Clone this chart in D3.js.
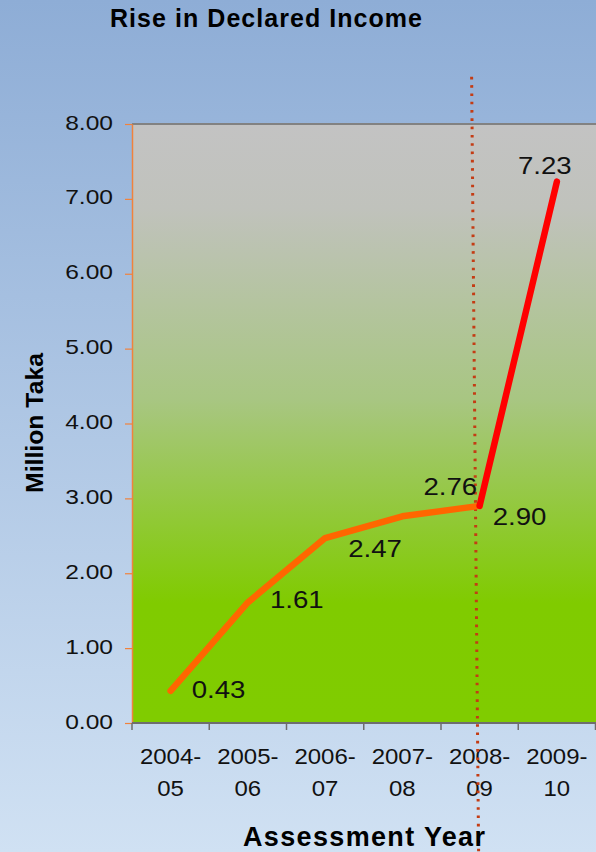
<!DOCTYPE html>
<html>
<head>
<meta charset="utf-8">
<script src="https://cdn.jsdelivr.net/npm/d3@7/dist/d3.min.js"></script>
<style>
  html, body { margin: 0; padding: 0; background: #ffffff; }
  svg { display: block; font-family: "Liberation Sans", Arial, sans-serif; }
</style>
</head>
<body>
<svg id="chart" width="596" height="852"></svg>
<script>
// Assessment years and declared income (million Taka)
const years = ["2004-05", "2005-06", "2006-07", "2007-08", "2008-09", "2009-10"];
const income = [0.43, 1.61, 2.47, 2.76, 2.90, 7.23];
const yTicks = [0, 1, 2, 3, 4, 5, 6, 7, 8];
const markerYear = "2008-09";

// Label placement around each point (start anchor, baseline)
const labelDx = [21, 22, 23, 21, 13, -39];
const labelDy = [7, 6, 19, -21, 19, -8];

const W = 596, H = 852;
const plot = { left: 132, right: 595.5, top: 124, bottom: 723 };

const svg = d3.select("#chart");
const defs = svg.append("defs");

const bgGrad = defs.append("linearGradient").attr("id", "bgGrad")
  .attr("x1", 0).attr("y1", 0).attr("x2", 0).attr("y2", 1);
bgGrad.append("stop").attr("offset", "0%").attr("stop-color", "#8eadd6");
bgGrad.append("stop").attr("offset", "100%").attr("stop-color", "#d0e1f3");

const plotGrad = defs.append("linearGradient").attr("id", "plotGrad")
  .attr("x1", 0).attr("y1", 0).attr("x2", 0).attr("y2", 1);
plotGrad.append("stop").attr("offset", "0%").attr("stop-color", "#c3c3c3");
plotGrad.append("stop").attr("offset", "14%").attr("stop-color", "#c0c2bc");
plotGrad.append("stop").attr("offset", "46%").attr("stop-color", "#a8c682");
plotGrad.append("stop").attr("offset", "80%").attr("stop-color", "#80cb00");
plotGrad.append("stop").attr("offset", "100%").attr("stop-color", "#80cc00");

svg.append("rect").attr("width", W).attr("height", H).attr("fill", "url(#bgGrad)");

const x = d3.scaleBand().domain(years).range([plot.left, plot.right]).padding(0);
const y = d3.scaleLinear().domain([0, 8]).range([plot.bottom, plot.top]);
const cx = d => x(d) + x.bandwidth() / 2;

// Plot area
svg.append("rect")
  .attr("x", plot.left).attr("y", plot.top)
  .attr("width", plot.right - plot.left + 1).attr("height", plot.bottom - plot.top)
  .attr("fill", "url(#plotGrad)");

// Top border
svg.append("line")
  .attr("x1", plot.left).attr("x2", W).attr("y1", plot.top).attr("y2", plot.top)
  .attr("stroke", "#828282").attr("stroke-width", 2);

// Stretch helper: widens text horizontally by a factor
function stretch(sel, f, mode) {
  sel.each(function () {
    const len = this.getComputedTextLength();
    d3.select(this).attr("textLength", len * f).attr("lengthAdjust", mode || "spacingAndGlyphs");
  });
}

// Y axis
const yAxis = svg.append("g")
  .attr("transform", `translate(${plot.left},0)`)
  .call(d3.axisLeft(y).tickValues(yTicks).tickFormat(d3.format(".2f")).tickSize(7).tickSizeOuter(0).tickPadding(0));
yAxis.select(".domain").attr("stroke", "#f0823c").attr("stroke-width", 1.5);
yAxis.selectAll(".tick line").attr("stroke", "#f0823c").attr("stroke-width", 1.2);
yAxis.selectAll(".tick text")
  .attr("x", -19).attr("dy", null).attr("y", 5)
  .attr("font-size", 21).attr("fill", "#111")
  .attr("font-family", "Liberation Sans, Arial, sans-serif")
  .attr("text-anchor", "end");
stretch(yAxis.selectAll(".tick text"), 1.17);

// X axis
const xAxis = svg.append("g").attr("transform", `translate(0,${plot.bottom})`);
xAxis.append("line")
  .attr("x1", plot.left).attr("x2", W).attr("y1", 0).attr("y2", 0)
  .attr("stroke", "#6e6e6e").attr("stroke-width", 2);
const bounds = years.map(d => x(d)).concat([plot.right]);
xAxis.selectAll("line.tick").data(bounds).join("line").attr("class", "tick")
  .attr("x1", d => d).attr("x2", d => d).attr("y1", 0).attr("y2", 7)
  .attr("stroke", "#6e6e6e").attr("stroke-width", 1.5);
const xl = xAxis.selectAll("text.lab").data(years).join("text").attr("class", "lab")
  .attr("text-anchor", "middle").attr("font-size", 22).attr("fill", "#111");
xl.append("tspan").attr("x", d => cx(d)).attr("y", 41).text(d => d.split("-")[0] + "-");
xl.append("tspan").attr("x", d => cx(d)).attr("y", 73).text(d => d.split("-")[1]);
xl.selectAll("tspan").each(function () {
  const len = this.getComputedTextLength();
  d3.select(this).attr("textLength", len * 1.09).attr("lengthAdjust", "spacingAndGlyphs");
});

// Marker line at the 2008-09 assessment year
svg.append("line")
  .attr("x1", cx(markerYear) - 8).attr("y1", y(8.63))
  .attr("x2", cx(markerYear) - 1).attr("y2", H + 2)
  .attr("stroke", "#c43c14").attr("stroke-width", 3)
  .attr("stroke-dasharray", "2.6 5.7");

// Income line: orange up to 2008-09, red for the jump to 2009-10
const pts = years.map((d, i) => [cx(d), y(income[i])]);
const line = d3.line();
const split = years.indexOf(markerYear);
svg.append("path").attr("d", line(pts.slice(0, split + 1)))
  .attr("fill", "none").attr("stroke", "#ff6600").attr("stroke-width", 6.5)
  .attr("stroke-linecap", "round").attr("stroke-linejoin", "round");
svg.append("path").attr("d", line(pts.slice(split)))
  .attr("fill", "none").attr("stroke", "#ff0000").attr("stroke-width", 6.5)
  .attr("stroke-linecap", "round").attr("stroke-linejoin", "round");

// Value labels
const vl = svg.selectAll("text.val").data(income).join("text").attr("class", "val")
  .attr("x", (d, i) => pts[i][0] + labelDx[i])
  .attr("y", (d, i) => pts[i][1] + labelDy[i])
  .attr("font-size", 24).attr("fill", "#111")
  .text(d => d.toFixed(2));
stretch(vl, 1.15);

// Titles
svg.append("text").attr("x", 110).attr("y", 27)
  .attr("font-size", 25).attr("font-weight", "bold").attr("fill", "#000")
  .attr("textLength", 312).attr("lengthAdjust", "spacing")
  .text("Rise in Declared Income");

svg.append("text").attr("x", 243).attr("y", 846)
  .attr("font-size", 27).attr("font-weight", "bold").attr("fill", "#000")
  .attr("textLength", 242).attr("lengthAdjust", "spacing")
  .text("Assessment Year");

svg.append("text")
  .attr("transform", "translate(43,423) rotate(-90)")
  .attr("text-anchor", "middle")
  .attr("font-size", 24).attr("font-weight", "bold").attr("fill", "#000")
  .attr("textLength", 140).attr("lengthAdjust", "spacingAndGlyphs")
  .text("Million Taka");
</script>
</body>
</html>
